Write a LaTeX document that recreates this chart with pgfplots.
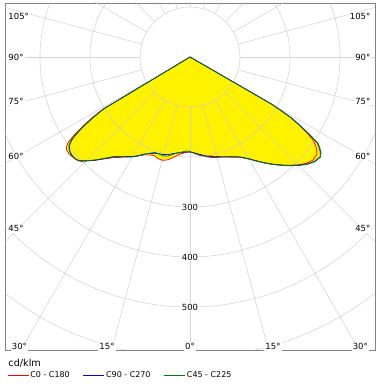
\documentclass[border=0pt]{standalone}
\usepackage{fontspec}
\setmainfont{DejaVu Sans}
\usepackage{pgfplots}
\pgfplotsset{compat=1.18}
\usepackage{pgfplotstable}

\definecolor{framegray}{RGB}{130,130,130}
\definecolor{gridc}{RGB}{200,200,200}
\definecolor{cgreen}{RGB}{0,128,0}

% C0 - C180 (negative angle = C180 side), angle from nadir in degrees, cd/klm
\pgfplotstableread{
a r
-59.5 0
-59 205
-58 235
-57 258
-56 280
-55 297
-54 306
-53 309
-51.5 310
-50 309
-48 307
-46.5 303
-45 294
-42.5 280
-40 266
-37.5 254
-35 245
-32.5 237
-30 230
-27.5 223
-25 216
-22.5 212
-20 210
-17.5 213
-15 214
-12.5 211
-10 205
-7.5 199
-5 194
-2.5 191
0 190
2.5 192
5 195
7.5 199
10 203
12.5 206
15 208
17.5 210
20 213
22.5 217
25 221
27.5 227
30 235
32.5 246
35 258
37.5 270
40 282
42.5 294
45 305
47.5 315
50 321
52.5 320
54 313
55 306
56 297
57 280
58 258
59 234
59.5 210
60 186
61 0
}\redC

% C90 - C270
\pgfplotstableread{
a r
-59.5 0
-59 200
-58 228
-57 251
-56 272
-55 288
-54 297
-53 302
-52 305
-50.5 307
-49 307
-47.5 305
-46.5 302
-45 294
-42.5 280
-40 265
-37.5 252
-35 244
-32.5 236
-30 230
-27.5 222
-25 214
-22.5 209
-20 205
-17.5 203
-15 202
-12.5 200
-10 196
-7.5 194
-5 192
-2.5 190
0 190
2.5 192
5 195
7.5 198
10 202
12.5 204
15 206
17.5 209
20 212
22.5 216
25 220
27.5 226
30 235
32.5 246
35 258
37.5 270
40 282
42.5 294
45 306
47.5 317
50 325
52.5 328
54 322
55 315
56 307
57 284
58 260
59 236
59.5 212
60 188
61 0
}\blueC

% C45 - C225
\pgfplotstableread{
a r
-59.5 0
-59 203
-58 230
-57 253
-56 274
-55 290
-54 299
-53 303
-52 306
-50.5 308
-49 307
-47.5 305
-46.5 301
-45 293
-42.5 279
-40 264
-37.5 251
-35 243
-32.5 237
-30 231
-27.5 223
-25 215
-22.5 208
-20 203
-17.5 204
-15 205
-12.5 203
-10 198
-7.5 193
-5 191
-2.5 188
0 189
2.5 193
5 197
7.5 200
10 201
12.5 203
15 207
17.5 210
20 213
22.5 215
25 220
27.5 227
30 236
32.5 247
35 259
37.5 271
40 283
42.5 295
45 307
47.5 318
50 326
52.5 329
54 324
55 317
56 309
57 287
58 262
59 238
59.5 214
60 190
61 0
}\greenC

\begin{document}
\begin{tikzpicture}
\path[use as bounding box] (-5bp,-36bp) rectangle (376bp,350bp);
\begin{axis}[
  at={(0bp,0bp)}, anchor=south west,
  scale only axis, width=370bp, height=347bp,
  xmin=-370, xmax=370, ymin=-586, ymax=108,
  ticks=none,
  axis line style={draw=framegray, line width=0.8bp},
  clip=true,
  legend columns=3,
  legend image code/.code={\draw[#1, line width=1bp] (0bp,0bp) -- (21bp,0bp);},
  legend style={draw=none, fill=none, at={(0,0)}, anchor=west,
    xshift=2bp, yshift=-25.5bp, inner sep=0pt,
    font=\fontsize{8}{9.6}\selectfont,
    nodes={inner sep=1.2bp},
    /tikz/every even column/.append style={column sep=12bp}},
]
\addplot[fill=yellow, draw=none, forget plot] table[x expr={\thisrow{r}*sin(\thisrow{a})}, y expr={-\thisrow{r}*cos(\thisrow{a})}] {\redC};
\addplot[fill=yellow, draw=none, forget plot] table[x expr={\thisrow{r}*sin(\thisrow{a})}, y expr={-\thisrow{r}*cos(\thisrow{a})}] {\blueC};
\addplot[fill=yellow, draw=none, forget plot] table[x expr={\thisrow{r}*sin(\thisrow{a})}, y expr={-\thisrow{r}*cos(\thisrow{a})}] {\greenC};

\pgfplotsinvokeforeach{50,100,150,200,250,300}{
  \draw[gridc, opacity=0.75, line width=0.6bp] (axis cs:0,0) circle[radius=#1bp];
}
\pgfplotsinvokeforeach{0,15,...,345}{
  \draw[gridc, opacity=0.75, line width=0.6bp] ([shift={(#1:50bp)}]axis cs:0,0) -- ([shift={(#1:700bp)}]axis cs:0,0);
}

\addplot[draw=red, line width=0.7bp] table[x expr={\thisrow{r}*sin(\thisrow{a})}, y expr={-\thisrow{r}*cos(\thisrow{a})}] {\redC};
\addlegendentry{C0 - C180}
\addplot[draw=blue, line width=0.7bp] table[x expr={\thisrow{r}*sin(\thisrow{a})}, y expr={-\thisrow{r}*cos(\thisrow{a})}] {\blueC};
\addlegendentry{C90 - C270}
\addplot[draw=cgreen, line width=0.7bp] table[x expr={\thisrow{r}*sin(\thisrow{a})}, y expr={-\thisrow{r}*cos(\thisrow{a})}] {\greenC};
\addlegendentry{C45 - C225}
\end{axis}

% radial value labels
\begin{scope}[every node/.style={fill=white, inner sep=1bp, font=\fontsize{8.5}{10}\selectfont}]
\node at (185bp,143bp) {300};
\node at (185bp,93bp) {400};
\node at (185bp,43bp) {500};
% angle labels, left
\node[anchor=west] at (2.3bp,334bp) {105°};
\node[anchor=west] at (2.3bp,293bp) {90°};
\node[anchor=west] at (2.3bp,249bp) {75°};
\node[anchor=west] at (2.3bp,194bp) {60°};
\node[anchor=west] at (2.3bp,121.7bp) {45°};
% right
\node[anchor=east] at (366.5bp,334bp) {105°};
\node[anchor=east] at (366.5bp,293bp) {90°};
\node[anchor=east] at (366.5bp,249bp) {75°};
\node[anchor=east] at (366.5bp,194bp) {60°};
\node[anchor=east] at (366.5bp,121.7bp) {45°};
% bottom
\node[anchor=west] at (5.7bp,3.3bp) {30°};
\node at (102bp,3.3bp) {15°};
\node at (185bp,3.3bp) {0°};
\node at (268bp,3.3bp) {15°};
\node[anchor=east] at (364bp,3.3bp) {30°};
\end{scope}
\node[anchor=west, inner sep=0pt, font=\fontsize{9.7}{11}\selectfont] at (3.3bp,-13.3bp) {cd/klm};
\end{tikzpicture}
\end{document}
